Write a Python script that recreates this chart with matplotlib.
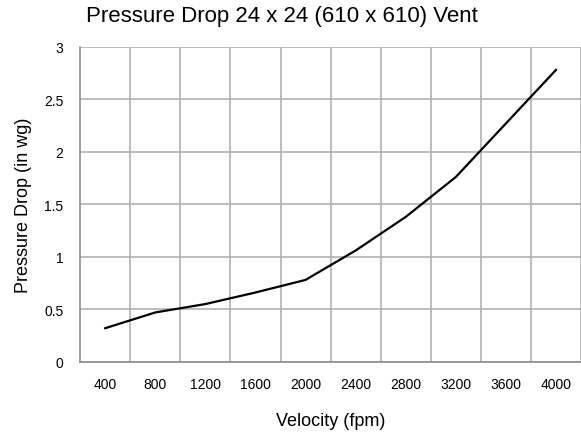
import matplotlib.pyplot as plt
from matplotlib.ticker import FixedLocator, FuncFormatter

plt.rcParams['font.family'] = ['Liberation Sans', 'DejaVu Sans']

# Data
velocity = ["400", "800", "1200", "1600", "2000", "2400", "2800", "3200", "3600", "4000"]
pressure = [0.32, 0.47, 0.55, 0.66, 0.78, 1.06, 1.38, 1.76, 2.27, 2.78]

fig = plt.figure(figsize=(5.81, 4.35), dpi=100)
ax = fig.add_axes([0.138, 0.166, 0.862, 0.724])

xs = list(range(len(velocity)))
ax.plot(xs, pressure, color="black", linewidth=1.6, zorder=3)

# Category axis, grid lines between categories
ax.set_xlim(-0.5, len(velocity) - 0.5)
ax.set_xticks(xs)
ax.set_xticklabels(velocity)
ax.xaxis.set_minor_locator(FixedLocator([i + 0.5 for i in xs]))
ax.set_ylim(0, 3)
ax.set_yticks([0, 0.5, 1, 1.5, 2, 2.5, 3])
ax.yaxis.set_major_formatter(FuncFormatter(lambda v, p: "%g" % v))

ax.grid(True, which="minor", axis="x", color="#b0b0b0", linewidth=1.2)
ax.grid(True, which="major", axis="y", color="#b0b0b0", linewidth=1.2)
ax.set_axisbelow(True)

ax.tick_params(which="both", length=0)
ax.tick_params(axis="x", labelsize=10, pad=11)
ax.tick_params(axis="y", labelsize=10, pad=12)

for s in ["top", "right"]:
    ax.spines[s].set_visible(False)
ax.spines["left"].set_color("#8c8c8c")
ax.spines["bottom"].set_color("#8c8c8c")
ax.spines["left"].set_linewidth(1.2)
ax.spines["bottom"].set_linewidth(1.2)

ax.set_xlabel("Velocity (fpm)", fontsize=13, labelpad=15)
ax.set_ylabel("Pressure Drop (in wg)", fontsize=13, labelpad=9)
fig.text(0.485, 0.962, "Pressure Drop 24 x 24 (610 x 610) Vent", fontsize=16,
         ha="center", va="center")

fig.savefig("out.png", dpi=100)
